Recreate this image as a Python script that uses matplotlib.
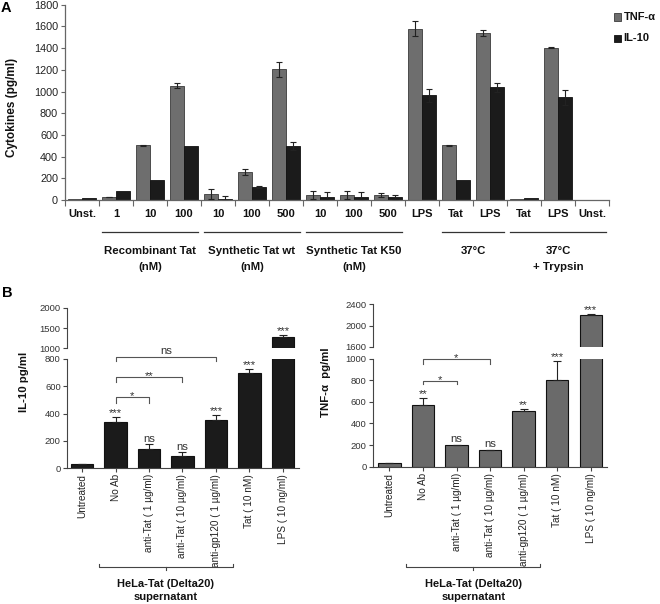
import numpy as np
import matplotlib
matplotlib.use('Agg')
import matplotlib.pyplot as plt
from matplotlib import font_manager
from matplotlib.patches import Rectangle
from matplotlib.lines import Line2D
import matplotlib.transforms as mtransforms

# ---------------- data : panel A ----------------
a_categories = ['Unst.', '1', '10', '100', '10', '100', '500', '10', '100', '500',
                'LPS', 'Tat', 'LPS', 'Tat', 'LPS', 'Unst.']
a_tnf = [5, 28, 503, 1055, 52, 255, 1203, 46, 46, 46, 1580, 505, 1543, 5, 1403, 4]
a_tnf_err = [0, 3, 8, 22, 46, 28, 65, 37, 37, 15, 71, 6, 28, 0, 3, 0]
a_il10 = [22, 84, 183, 494, 12, 123, 500, 31, 31, 31, 965, 188, 1038, 20, 945, 3]
a_il10_err = [0, 0, 0, 0, 25, 10, 38, 46, 40, 18, 58, 0, 42, 0, 68, 0]
a_groups = ['Recombinant Tat\n(nM)', 'Synthetic Tat wt\n(nM)', 'Synthetic Tat K50\n(nM)',
            '37°C', '37°C\n+ Trypsin']
a_group_first = [1, 4, 7, 11, 13]
a_group_last = [3, 6, 9, 12, 15]
a_series = ['TNF-α', 'IL-10']
a_yticks = [0, 200, 400, 600, 800, 1000, 1200, 1400, 1600, 1800]

# ---------------- data : panel B ----------------
b_categories = ['Untreated', 'No Ab', 'anti-Tat ( 1 µg/ml)', 'anti-Tat ( 10 µg/ml)',
                'anti-gp120 ( 1 µg/ml)', 'Tat ( 10 nM)', 'LPS ( 10 ng/ml)']
b_il10 = [27, 340, 142, 90, 350, 700, 1272]
b_il10_err = [3, 32, 33, 25, 37, 28, 64]
b_il10_sig = ['', '***', 'ns', 'ns', '***', '***', '***']
b_il10_brackets = [(1, 2, '*'), (1, 3, '**'), (1, 4, 'ns')]
b_tnf = [31, 571, 198, 152, 519, 803, 2200]
b_tnf_err = [3, 68, 5, 3, 15, 173, 18]
b_tnf_sig = ['', '**', 'ns', 'ns', '**', '***', '***']
b_tnf_brackets = [(1, 2, '*'), (1, 3, '*'), (1, 4, 'ns')]
b_il10_low_ticks = [0, 200, 400, 600, 800]
b_il10_up_ticks = [1000, 1500, 2000]
b_tnf_low_ticks = [0, 200, 400, 600, 800, 1000]
b_tnf_up_ticks = [1600, 2000, 2400]
b_group_label = 'HeLa-Tat (Delta20)\nsupernatant'

# ---------------- fonts ----------------
names = {f.name for f in font_manager.fontManager.ttflist}
REG = 'Liberation Sans' if 'Liberation Sans' in names else 'DejaVu Sans'
if 'Liberation Sans Narrow' in names:
    NAR, NS = 'Liberation Sans Narrow', 1.0
else:
    NAR, NS = REG, 0.82
plt.rcParams['font.family'] = [REG, 'DejaVu Sans']

W, H = 660.0, 604.0
fig = plt.figure(figsize=(W / 100, H / 100), dpi=100)


def rect(l, t, r, b):
    return [l / W, 1 - b / H, (r - l) / W, (b - t) / H]


def fy(py):
    return 1 - py / H


# ================= Panel A =================
axA = fig.add_axes(rect(65, 4.7, 609, 200))
xA = np.arange(len(a_categories))
bw = 0.41
c_tnf, c_il = '#6e6e6e', '#1b1b1b'
axA.bar(xA - bw / 2, a_tnf, bw, color=c_tnf, edgecolor='#3a3a3a', linewidth=0.6, zorder=2)
axA.bar(xA + bw / 2, a_il10, bw, color=c_il, edgecolor='#111111', linewidth=0.6, zorder=2)
for off, vals, errs in ((-bw / 2, a_tnf, a_tnf_err), (bw / 2, a_il10, a_il10_err)):
    v = np.array(vals, float)
    e = np.array(errs, float)
    m = e > 0
    axA.errorbar(xA[m] + off, v[m], yerr=e[m], fmt='none', ecolor='#222222',
                 elinewidth=0.8, capsize=2.2, capthick=0.8, zorder=3)
axA.set_xlim(-0.5, len(a_categories) - 0.5)
axA.set_ylim(0, 1800)
axA.set_yticks(a_yticks)
axA.set_yticklabels([str(t) for t in a_yticks], fontsize=7.8, color='#222222')
axA.set_xticks(np.arange(-0.5, len(a_categories), 1))
axA.set_xticklabels([])
axA.set_xticks(xA, minor=True)
axA.set_xticklabels(a_categories, minor=True, fontsize=8, fontweight='bold', color='#111111')
axA.tick_params(axis='x', which='major', length=4, width=0.8, color='#666666', direction='out')
axA.tick_params(axis='x', which='minor', length=0, pad=6.8)
axA.tick_params(axis='y', length=3, width=0.8, color='#666666', direction='out', pad=2)
for s in ('top', 'right'):
    axA.spines[s].set_visible(False)
for s in ('left', 'bottom'):
    axA.spines[s].set_color('#666666')
    axA.spines[s].set_linewidth(0.9)

transA = mtransforms.blended_transform_factory(axA.transData, fig.transFigure)
inset = 3 / 34.0
for g, f0, f1 in zip(a_groups, a_group_first, a_group_last):
    fig.add_artist(Line2D([f0 - 0.5 + inset, f1 + 0.5 - inset], [fy(231.5)] * 2,
                          transform=transA, color='#333333', lw=0.9))
    lines = g.split('\n')
    for k, ln in enumerate(lines):
        fig.text((f0 + f1) / 2, fy(251 + 16 * k), ln, transform=transA, ha='center',
                 va='center', fontsize=8.2, fontweight='bold', color='#111111')

fig.text(12 / W, fy(107), 'Cytokines (pg/ml)', rotation=90, ha='center', va='center',
         fontsize=8.5, fontweight='bold', color='#111111')
fig.text(1 / W, fy(8), 'A', ha='left', va='center', fontsize=10.5, fontweight='bold')

# legend
for k, (lab, col, ec) in enumerate(zip(a_series, (c_tnf, c_il), ('#3a3a3a', '#111111'))):
    cy = 17 + 21 * k
    fig.add_artist(Rectangle(((613.5) / W, fy(cy + 3.5)), 7 / W, 7 / H,
                             transform=fig.transFigure, facecolor=col, edgecolor=ec, lw=0.6))
    fig.text(623.5 / W, fy(cy), lab, ha='left', va='center', fontsize=8,
             fontweight='bold', color='#111111', family=[REG, 'DejaVu Sans'])

fig.text(2 / W, fy(293), 'B', ha='left', va='center', fontsize=10.5, fontweight='bold')


# ================= Panel B =================
def broken_panel(low_px, up_px, xlim, cats, vals, errs, sigs, brackets, color,
                 low_lim, up_lim, low_ticks, up_ticks, ylabel, ylabel_x, br_px, lowmap):
    axl = fig.add_axes(rect(*low_px))
    axu = fig.add_axes(rect(*up_px))
    x = np.arange(len(vals))
    for ax in (axl, axu):
        ax.bar(x, vals, width=0.66, color=color, edgecolor='#111111', linewidth=0.8, zorder=2)
        ax.errorbar(x, vals, yerr=[np.zeros(len(errs)), errs], fmt='none', ecolor='#222222',
                    elinewidth=0.8, capsize=3, capthick=0.8, zorder=3)
        ax.set_xlim(*xlim)
        for s in ('top', 'right'):
            ax.spines[s].set_visible(False)
        ax.spines['left'].set_color('#444444')
        ax.spines['left'].set_linewidth(0.8)
        ax.tick_params(axis='y', length=3, width=0.8, color='#444444', direction='out',
                       pad=1.5, labelsize=8.3 * NS, labelcolor='#333333')
    axl.set_ylim(*low_lim)
    axu.set_ylim(*up_lim)
    axl.set_yticks(low_ticks)
    axl.set_yticklabels([str(t) for t in low_ticks], family=NAR)
    axu.set_yticks(up_ticks)
    axu.set_yticklabels([str(t) for t in up_ticks], family=NAR)
    axu.spines['bottom'].set_visible(False)
    axu.set_xticks([])
    axl.spines['bottom'].set_color('#444444')
    axl.spines['bottom'].set_linewidth(0.8)
    axl.set_xticks(x)
    axl.set_xticklabels(cats, rotation=90, family=NAR, fontsize=8.8 * NS, color='#222222')
    axl.tick_params(axis='x', length=3, width=0.8, color='#444444', direction='out', pad=1.5)

    # significance above bars
    for xi, v, e, s in zip(x, vals, errs, sigs):
        if not s:
            continue
        ax = axu if v > low_lim[1] else axl
        if s == 'ns':
            ax.annotate(s, (xi, v + e), xytext=(0, 1.8), textcoords='offset points',
                        ha='center', va='baseline', fontsize=10 * NS, family=NAR,
                        color='#333333', annotation_clip=False)
        else:
            ax.annotate(s, (xi, v + e), xytext=(0, 0.6), textcoords='offset points',
                        ha='center', va='baseline', fontsize=10 * NS, family=NAR,
                        color='#333333', annotation_clip=False)
    # comparison brackets
    for (b0, b1, s), (ytop, yleg) in zip(brackets, br_px):
        yt, yl = lowmap(ytop), lowmap(yleg)
        axl.plot([b0, b0, b1, b1], [yl, yt, yt, yl], color='#555555', lw=0.8,
                 clip_on=False, zorder=4)
        if s == 'ns':
            axl.annotate(s, ((b0 + b1) / 2, yt), xytext=(0, 1.6), textcoords='offset points',
                         ha='center', va='baseline', fontsize=10 * NS, family=NAR,
                         color='#333333', annotation_clip=False)
        else:
            axl.annotate(s, ((b0 + b1) / 2, yt), xytext=(0, -1.4), textcoords='offset points',
                         ha='center', va='baseline', fontsize=10 * NS, family=NAR,
                         color='#333333', annotation_clip=False)

    # group bracket under labels
    tr = mtransforms.blended_transform_factory(axl.transData, fig.transFigure)
    fig.add_artist(Line2D([0.5, 0.5, 4.5, 4.5], [fy(563.5), fy(566.5), fy(566.5), fy(563.5)],
                          transform=tr, color='#444444', lw=0.8))
    fig.add_artist(Line2D([2.5, 2.5], [fy(566.5), fy(569.5)], transform=tr,
                          color='#444444', lw=0.8))
    for k, ln in enumerate(b_group_label.split('\n')):
        fig.text(2.5, fy(584 + 13 * k), ln, transform=tr, ha='center', va='center',
                 fontsize=9.8 * NS, fontweight='bold', family=NAR, color='#111111')
    fig.text(ylabel_x / W, fy(382), ylabel, rotation=90, ha='center', va='center',
             fontsize=10 * NS, fontweight='bold', family=[NAR, 'DejaVu Sans'], color='#111111')
    return axl, axu


broken_panel((67, 359, 299, 468), (67, 307.7, 299, 348.3), (-0.45, 6.48), b_categories,
             b_il10, b_il10_err, b_il10_sig, b_il10_brackets, '#1b1b1b',
             (0, 800), (1000, 2000), b_il10_low_ticks, b_il10_up_ticks,
             'IL-10 pg/ml', 24, [(397, 403), (376.7, 381.7), (356.7, 360.5)],
             lambda p: (468 - p) / 109.0 * 800)

broken_panel((372.7, 358.7, 606.7, 466.7), (372.7, 304.3, 606.7, 347), (-0.5, 6.48), b_categories,
             b_tnf, b_tnf_err, b_tnf_sig, b_tnf_brackets, '#6a6a6a',
             (0, 1000), (1600, 2400), b_tnf_low_ticks, b_tnf_up_ticks,
             'TNF-α  pg/ml', 326, [(380.7, 384.3), (359.3, 364), (338.3, 342.3)],
             lambda p: (466.7 - p) / 108.0 * 1000)

fig.savefig('out.png', dpi=100)
